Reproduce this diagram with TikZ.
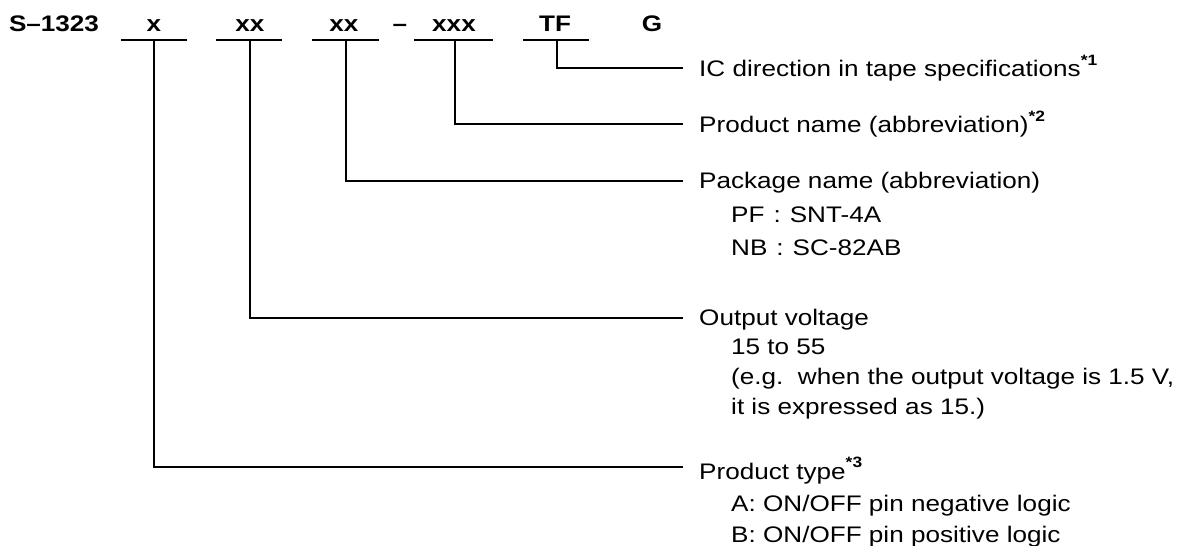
\documentclass[tikz,border=0pt]{standalone}
\usepackage{fontspec}
\setmainfont[FakeStretch=1.16]{Liberation Sans}
\begin{document}
\begin{tikzpicture}[x=1bp,y=-1bp,
  conn/.style={line width=1.7bp,line cap=rect},
  code/.style={inner sep=0pt,anchor=base,font=\fontsize{22.5bp}{24bp}\selectfont\bfseries},
  lbl/.style={inner sep=0pt,anchor=base west,align=left,font=\fontsize{22.5bp}{32bp}\selectfont},
  sub/.style={inner sep=0pt,anchor=base west,font=\fontsize{22.5bp}{32bp}\selectfont}]
\newcommand{\fnm}[1]{\raisebox{0.5em}{\fontsize{15bp}{15bp}\selectfont\bfseries *#1}}
\useasboundingbox (0,0) rectangle (1191,546);
% code parts
\node[code] (s)   at (54,32)  {S–1323};
\node[code] (cx)  at (154,32) {x};
\node[code] (cv)  at (250,32) {xx};
\node[code] (cp)  at (344,32) {xx};
\node[code] (dash) at (400,32) {–};
\node[code] (cn)  at (454,32) {xxx};
\node[code] (ct)  at (555,32) {TF};
\node[code] (cg)  at (652,32) {G};
% underlines
\coordinate (ux) at (154,40); \draw[conn] (122,40) -- (186,40);
\coordinate (uv) at (250,40); \draw[conn] (217,40) -- (281,40);
\coordinate (up) at (346,40); \draw[conn] (313,40) -- (378,40);
\coordinate (un) at (455,40); \draw[conn] (415,40) -- (492,40);
\coordinate (ut) at (557,40); \draw[conn] (524,40) -- (588,40);
% line ends
\coordinate (et) at (682,68);
\coordinate (en) at (682,124);
\coordinate (ep) at (682,181);
\coordinate (ev) at (682,318);
\coordinate (ex) at (682,467);
\draw[conn] (ut) |- (et);
\draw[conn] (un) |- (en);
\draw[conn] (up) |- (ep);
\draw[conn] (uv) |- (ev);
\draw[conn] (ux) |- (ex);
% labels
\node[lbl] (lt) at (699,77) {IC direction in tape specifications\fnm{1}};
\node[lbl] (ln) at (699,133) {Product name (abbreviation)\fnm{2}};
\node[lbl] (lp) at (699,189) {Package name (abbreviation)};
\node[sub] (lp1) at (731,223) {PF\kern9bp:\kern9bp SNT-4A};
\node[sub] (lp2) at (731,256) {NB\kern9bp:\kern9bp SC-82AB};
\node[lbl] (lv) at (699,326) {Output voltage};
\node[sub] (lv1) at (731,355) {15 to 55};
\node[sub] (lv2) at (731,385) {(e.g.\ \ when the output voltage is 1.5 V,};
\node[sub] (lv3) at (731,414) {it is expressed as 15.)};
\node[lbl] (lx) at (699,479) {Product type\fnm{3}};
\node[sub] (lx1) at (731,511) {A: ON/OFF pin negative logic};
\node[sub] (lx2) at (731,542) {B: ON/OFF pin positive logic};
\end{tikzpicture}
\end{document}
